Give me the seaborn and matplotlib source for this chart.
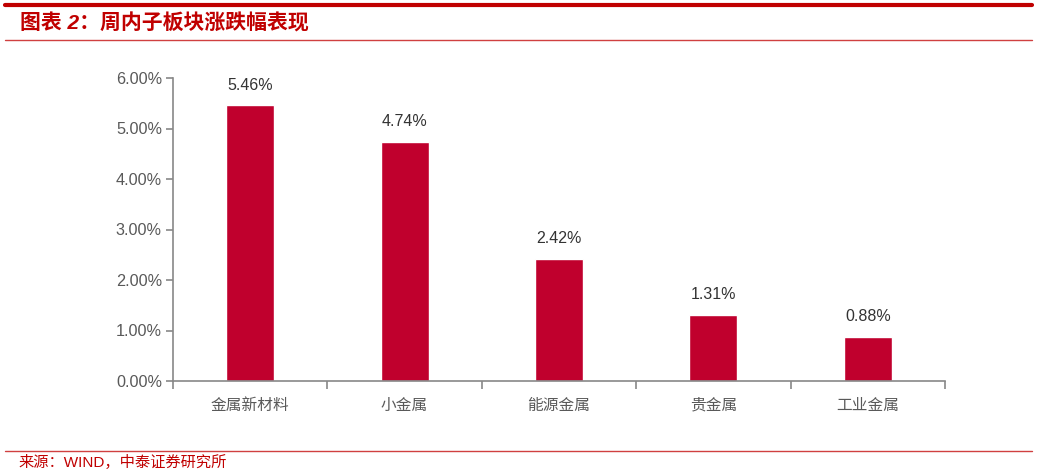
import matplotlib
matplotlib.use("Agg")
import matplotlib.pyplot as plt
import seaborn as sns
from matplotlib.lines import Line2D
from matplotlib.ticker import FuncFormatter, FixedLocator

categories = ["金属新材料", "小金属", "能源金属", "贵金属", "工业金属"]
values = [5.46, 4.74, 2.42, 1.31, 0.88]
y_ticks = [0, 1, 2, 3, 4, 5, 6]
title = "图表 2：周内子板块涨跌幅表现"
source = "来源：WIND，中泰证券研究所"

sns.set_theme(style="white")
plt.rcParams['font.family'] = ['Liberation Sans', 'Noto Sans CJK SC', 'DejaVu Sans']

W, H = 1037, 474
fig = plt.figure(figsize=(W / 100, H / 100), dpi=100)
ax = fig.add_axes([173 / W, 1 - 381 / H, (945 - 173) / W, (381 - 78) / H])

bar_color = "#C0002D"
red = "#C00000"
grey = "#888888"

sns.barplot(x=categories, y=values, color=bar_color, width=0.31, ax=ax,
            saturation=1, errorbar=None)
ax.bar_label(ax.containers[0], labels=[f"{v:.2f}%" for v in values],
             padding=9, fontsize=11.5, color="#333333")

ax.set_xlim(-0.5, len(categories) - 0.5)
ax.set_ylim(0, 6)
ax.set_yticks(y_ticks)
ax.yaxis.set_major_formatter(FuncFormatter(lambda v, p: f"{v:.2f}%"))
ax.set_xlabel("")
ax.set_ylabel("")

for s in ["top", "right"]:
    ax.spines[s].set_visible(False)
for s in ["left", "bottom"]:
    ax.spines[s].set_color(grey)
    ax.spines[s].set_linewidth(1.2)

ax.tick_params(axis="y", which="major", left=True, length=5, width=1.2, color=grey,
               labelsize=11.7, labelcolor="#595959", pad=3)
ax.tick_params(axis="x", which="major", bottom=False, labelsize=11.3,
               labelcolor="#595959", pad=6)
ax.xaxis.set_minor_locator(FixedLocator([i - 0.5 for i in range(len(categories) + 1)]))
ax.tick_params(axis="x", which="minor", bottom=True, length=6, width=1.2, color=grey)

# decorative header/footer lines
fig.add_artist(Line2D([5 / W, 1032 / W], [1 - 5 / H, 1 - 5 / H], color="#C00000", lw=3))
fig.add_artist(Line2D([5 / W, 1032 / W], [1 - 40 / H, 1 - 40 / H], color="#D04040", lw=1))
fig.add_artist(Line2D([5 / W, 1032 / W], [1 - 451 / H, 1 - 451 / H], color="#D04040", lw=1))

fig.text(20 / W, 1 - 23 / H, title, color=red, fontsize=15, fontweight="bold",
         fontstyle="italic", va="center", ha="left")
fig.text(18 / W, 1 - 462 / H, source, color=red, fontsize=11, va="center", ha="left")

fig.savefig("out.png", dpi=100)
